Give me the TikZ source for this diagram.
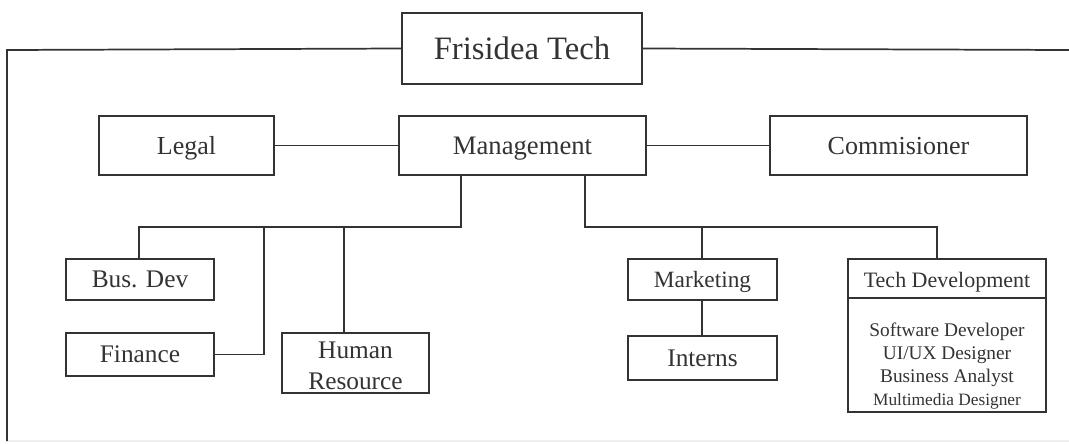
\documentclass[tikz,border=0pt]{standalone}
\usepackage{fontspec}
\setmainfont{Liberation Serif}
\definecolor{ink}{HTML}{333333}
\definecolor{faint}{HTML}{EEEEEE}
\tikzset{
  box/.style={draw=ink, line width=1.3pt, rectangle, inner sep=0pt, text=ink, align=center},
  fs/.style={font=\fontsize{#1}{#1}\selectfont, text height=0.66*#1 pt, text depth=0pt},
  conn/.style={draw=ink, line width=1.3pt},
}
\begin{document}
\begin{tikzpicture}[x=0.75pt,y=-0.75pt]
\useasboundingbox (0,0) rectangle (1069,443);
% boxes
\node[box,fs=24.5,minimum width=240*0.75pt,minimum height=71*0.75pt] (ft) at (522,48.5) {Frisidea Tech};
\node[box,fs=19.5,minimum width=175*0.75pt,minimum height=59*0.75pt] (legal) at (186.5,145.5) {Legal};
\node[box,fs=20,minimum width=247*0.75pt,minimum height=59*0.75pt] (mgmt) at (522.5,145.5) {Management};
\node[box,fs=19.5,minimum width=257*0.75pt,minimum height=59*0.75pt] (comm) at (898.5,145.5) {Commisioner};
\node[box,fs=19,minimum width=148*0.75pt,minimum height=41*0.75pt] (busdev) at (140,279.5) {Bus. Dev};
\node[box,fs=19,minimum width=148*0.75pt,minimum height=43*0.75pt] (fin) at (140,354.5) {Finance};
\node[box,minimum width=147*0.75pt,minimum height=60*0.75pt,font=\fontsize{19}{23}\selectfont] (hr) at (355.5,363) {};
\node[text=ink,align=center,inner sep=0pt,font=\fontsize{19}{23}\selectfont] (hrt) at (355.5,366) {Human\\Resource};
\node[box,fs=17.5,minimum width=149*0.75pt,minimum height=41*0.75pt] (mkt) at (702.5,279.5) {Marketing};
\node[box,fs=19,minimum width=149*0.75pt,minimum height=44*0.75pt] (int) at (702.5,358) {Interns};
\node[box,minimum width=198*0.75pt,minimum height=153*0.75pt] (td) at (947,335.5) {};
\node[text=ink,fs=16.5,inner sep=0pt] (tdt) at (947,280) {Tech Development};
\node[text=ink,align=center,inner sep=0pt,font=\fontsize{14.5}{17.3}\selectfont] (tdl) at (947,366) {Software Developer\\UI/UX Designer\\Business Analyst\\{\fontsize{13}{15}\selectfont Multimedia Designer}};
\draw[conn] (td.west |- 0,298) -- (td.east |- 0,298);
% coordinates
\coordinate (tl) at (7,50);
\coordinate (bl) at (7,441);
\coordinate (tr) at (1069,50);
\coordinate (br) at (1069,441);
\coordinate (jl) at (461,227);
\coordinate (jr) at (585,227);
\coordinate (jb) at (139,227);
\coordinate (jf) at (264,227);
\coordinate (jh) at (344,227);
\coordinate (jm) at (702,227);
\coordinate (jt) at (937,227);
% connectors
\draw[faint,line width=1pt] (bl) -- (br);
\draw[conn] (ft.west) -- (tl) -- (bl);
\draw[conn] (ft.east) -- (tr);
\draw[conn] (legal.east) -- (mgmt.west);
\draw[conn] (mgmt.east) -- (comm.west);
\draw[conn] (mgmt.south -| jl) -- (jl) -- (jb) -- (busdev.north -| jb);
\draw[conn] (jf) |- (fin.east);
\draw[conn] (jh) -- (hr.north -| jh);
\draw[conn] (mgmt.south -| jr) -- (jr) -- (jt) -- (td.north -| jt);
\draw[conn] (jm) -- (mkt.north -| jm);
\draw[conn] (mkt.south -| jm) -- (int.north -| jm);
\end{tikzpicture}
\end{document}
